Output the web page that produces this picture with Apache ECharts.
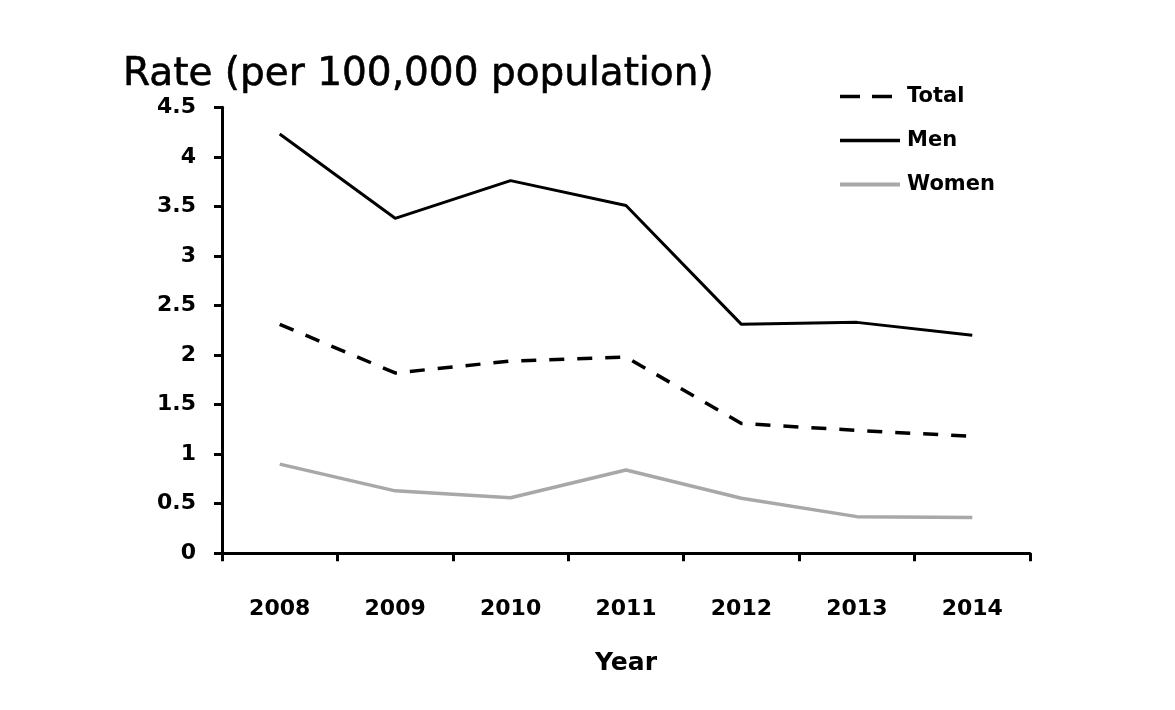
<!DOCTYPE html>
<html><head><meta charset="utf-8">
<script src="https://cdn.jsdelivr.net/npm/echarts@6/dist/echarts.min.js"></script>
<style>html,body{margin:0;padding:0;background:#fff}#c{width:1175px;height:710px}</style>
</head><body><div id="c"></div>
<script>
const years = ['2008','2009','2010','2011','2012','2013','2014'];
const totalRate = [2.31, 1.82, 1.94, 1.98, 1.31, 1.24, 1.18];
const menRate = [4.23, 3.38, 3.76, 3.51, 2.31, 2.33, 2.20];
const womenRate = [0.90, 0.63, 0.56, 0.84, 0.555, 0.37, 0.36];
const yTicks = ['0','0.5','1','1.5','2','2.5','3','3.5','4','4.5'];

const FONT = '"DejaVu Sans", sans-serif';
const chart = echarts.init(document.getElementById('c'));
chart.setOption({
  animation: false,
  backgroundColor: '#fff',
  title: {
    text: 'Rate (per 100,000 population)',
    left: 118, top: 50,
    textStyle: {fontFamily: FONT, fontSize: 39, fontWeight: 'normal', color: '#000',
      textBorderColor: '#000', textBorderWidth: 0.6}
  },
  legend: {
    orient: 'vertical', left: 833, top: 81, itemWidth: 60, itemHeight: 14, itemGap: 23,
    itemStyle: {opacity: 0},
    textStyle: {fontFamily: FONT, fontSize: 21, fontWeight: 'bold', color: '#000', padding: [0,0,0,2]},
    data: [
      {name: 'Total', lineStyle: {type: [20, 12], width: 3.5}},
      {name: 'Men', lineStyle: {width: 3.5}},
      {name: 'Women', lineStyle: {width: 4}}
    ]
  },
  grid: {left: 222, right: 145, top: 107.3, bottom: 156.7, containLabel: false},
  xAxis: {
    type: 'category', data: years, boundaryGap: true,
    name: 'Year', nameLocation: 'middle', nameGap: 98,
    nameTextStyle: {fontFamily: FONT, fontSize: 25, fontWeight: 'bold', color: '#000'},
    axisLine: {lineStyle: {color: '#000', width: 3}},
    axisTick: {show: true, length: 8, lineStyle: {color: '#000', width: 3}},
    axisLabel: {margin: 45, fontFamily: FONT, fontSize: 22, fontWeight: 'bold', color: '#000'},
    splitLine: {show: false}
  },
  yAxis: {
    type: 'value', min: 0, max: 4.5, interval: 0.5,
    axisLine: {show: true, lineStyle: {color: '#000', width: 3}},
    axisTick: {show: true, length: 8, lineStyle: {color: '#000', width: 3}},
    axisLabel: {margin: 26, fontFamily: FONT, fontSize: 22, fontWeight: 'bold', color: '#000',
      formatter: v => yTicks[Math.round(v / 0.5)]},
    splitLine: {show: false}
  },
  series: [
    {name: 'Total', type: 'line', data: totalRate, symbol: 'none',
     lineStyle: {color: '#000', width: 3.5, type: [15, 13]}, itemStyle: {color: '#000'}},
    {name: 'Men', type: 'line', data: menRate, symbol: 'none',
     lineStyle: {color: '#000', width: 3}, itemStyle: {color: '#000'}},
    {name: 'Women', type: 'line', data: womenRate, symbol: 'none',
     lineStyle: {color: '#a8a8a8', width: 3.5}, itemStyle: {color: '#a8a8a8'}}
  ]
});
</script></body></html>
